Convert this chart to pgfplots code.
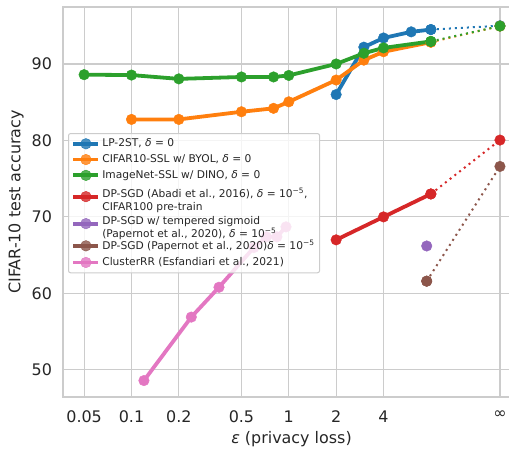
\documentclass[border=0pt]{standalone}
\usepackage{fontspec}
\setmainfont{DejaVu Sans}
\usepackage{pgfplots}
\pgfplotsset{compat=1.18}
\definecolor{tblue}{HTML}{1F77B4}
\definecolor{torange}{HTML}{FF7F0E}
\definecolor{tgreen}{HTML}{2CA02C}
\definecolor{tred}{HTML}{D62728}
\definecolor{tpurple}{HTML}{9467BD}
\definecolor{tbrown}{HTML}{8C564B}
\definecolor{tpink}{HTML}{E377C2}
\definecolor{gridc}{HTML}{CCCCCC}
\definecolor{txt}{HTML}{262626}
\newcommand{\tstrut}{\rule{0pt}{11.5bp}}
\newcommand{\bstrut}{\rule[-8.5bp]{0pt}{0pt}}
\begin{document}
\begin{tikzpicture}
\begin{axis}[
  scale only axis, width=457bp, height=390bp,
  xmode=log, xmin=0.0367, xmax=29.5,
  ymin=46.45, ymax=97.45,
  axis line style={draw=gridc, line width=1.25bp},
  grid=major, major grid style={draw=gridc, line width=1.1bp},
  tick style={draw=none}, major tick length=0pt, minor tick length=0pt,
  xtick={0.05,0.1,0.2,0.5,1,2,4,22},
  xticklabels={0.05,0.1,0.2,0.5,1,2,4,∞},
  ytick={50,60,70,80,90},
  /pgf/number format/assume math mode=true,
  ticklabel style={font=\fontsize{16}{19}\selectfont, text=txt},
  xticklabel style={yshift=-10bp},
  yticklabel style={xshift=-7.5bp},
  label style={font=\fontsize{16}{19}\selectfont, text=txt},
  xlabel={\textit{ε} (privacy loss)},
  ylabel={CIFAR-10 test accuracy},
  xlabel style={at={(axis description cs:0.5,0)}, anchor=base, yshift=-46bp},
  ylabel style={at={(axis description cs:-0.1028,0.5)}, anchor=center},
  legend cell align=left,
  legend image code/.code={\draw[mark repeat=2,mark phase=2] plot coordinates {(0bp,0bp) (12.5bp,0bp) (25bp,0bp)};},
  legend style={at={(axis description cs:0.011,0.497)}, anchor=west,
    font=\fontsize{10.7}{12.4}\selectfont, text=txt,
    draw=gridc, line width=1bp, fill=white, fill opacity=0.8, text opacity=1,
    rounded corners=2bp, inner xsep=3bp, inner ysep=3.5bp, row sep=2.4bp},
  every axis plot/.append style={line width=3.8bp, mark=*, mark size=5.3bp, mark options={solid, line width=0.4bp}},
]
\coordinate (sw) at (rel axis cs:0,0);
% LP-2ST
\addplot[color=tblue] coordinates {(2,86.0) (3,92.2) (4,93.4) (6,94.2) (8,94.5)};
\addlegendentry{LP-2ST, \textit{δ} = 0}
\addplot[color=tblue, forget plot, line width=2bp, dash pattern=on 2bp off 4bp] coordinates {(8,94.5) (22,95.0)};
% CIFAR10-SSL
\addplot[color=torange] coordinates {(0.1,82.75) (0.2,82.75) (0.5,83.75) (0.8,84.2) (1,85.05) (2,87.9) (3,90.5) (4,91.6) (8,92.85)};
\addlegendentry{CIFAR10-SSL w/ BYOL, \textit{δ} = 0}
\addplot[color=torange, forget plot, line width=2bp, dash pattern=on 2bp off 4bp] coordinates {(8,92.85) (22,94.95)};
% ImageNet-SSL
\addplot[color=tgreen] coordinates {(0.05,88.6) (0.1,88.55) (0.2,88.05) (0.5,88.3) (0.8,88.3) (1,88.5) (2,90.0) (3,91.4) (4,92.1) (8,92.95)};
\addlegendentry{ImageNet-SSL w/ DINO, \textit{δ} = 0}
\addplot[color=tgreen, forget plot, line width=2bp, dash pattern=on 2bp off 4bp] coordinates {(8,92.95) (22,94.95)};
% DP-SGD Abadi
\addplot[color=tred] coordinates {(2,67.0) (4,70.0) (8,73.0)};
\addlegendentry{\begin{tabular}{@{}l@{}}\tstrut DP-SGD (Abadi et al., 2016), \textit{δ} = 10\textsuperscript{−5},\\CIFAR100 pre-train\bstrut\end{tabular}}
\addplot[color=tred, forget plot, line width=2bp, dash pattern=on 2bp off 4bp] coordinates {(8,73.0) (22,80.05)};
% tempered sigmoid
\addplot[color=tpurple] coordinates {(7.53,66.2)};
\addlegendentry{\begin{tabular}{@{}l@{}}\tstrut DP-SGD w/ tempered sigmoid\\(Papernot et al., 2020), \textit{δ} = 10\textsuperscript{−5}\bstrut\end{tabular}}
% DP-SGD Papernot
\addplot[color=tbrown] coordinates {(7.53,61.6)};
\addlegendentry{DP-SGD (Papernot et al., 2020)\textit{δ} = 10\textsuperscript{−5}}
\addplot[color=tbrown, forget plot, line width=2bp, dash pattern=on 2bp off 4bp] coordinates {(7.53,61.6) (22,76.6)};
% ClusterRR
\addplot[color=tpink] coordinates {(0.12,48.6) (0.24,56.9) (0.36,60.8) (0.6,66.0) (0.72,67.4) (0.84,67.4) (0.96,68.7)};
\addlegendentry{ClusterRR (Esfandiari et al., 2021)}
\end{axis}
\pgfresetboundingbox
\path[use as bounding box] ([shift={(-63bp,-53bp)}]sw) rectangle ([shift={(446bp,397bp)}]sw);
\end{tikzpicture}
\end{document}
